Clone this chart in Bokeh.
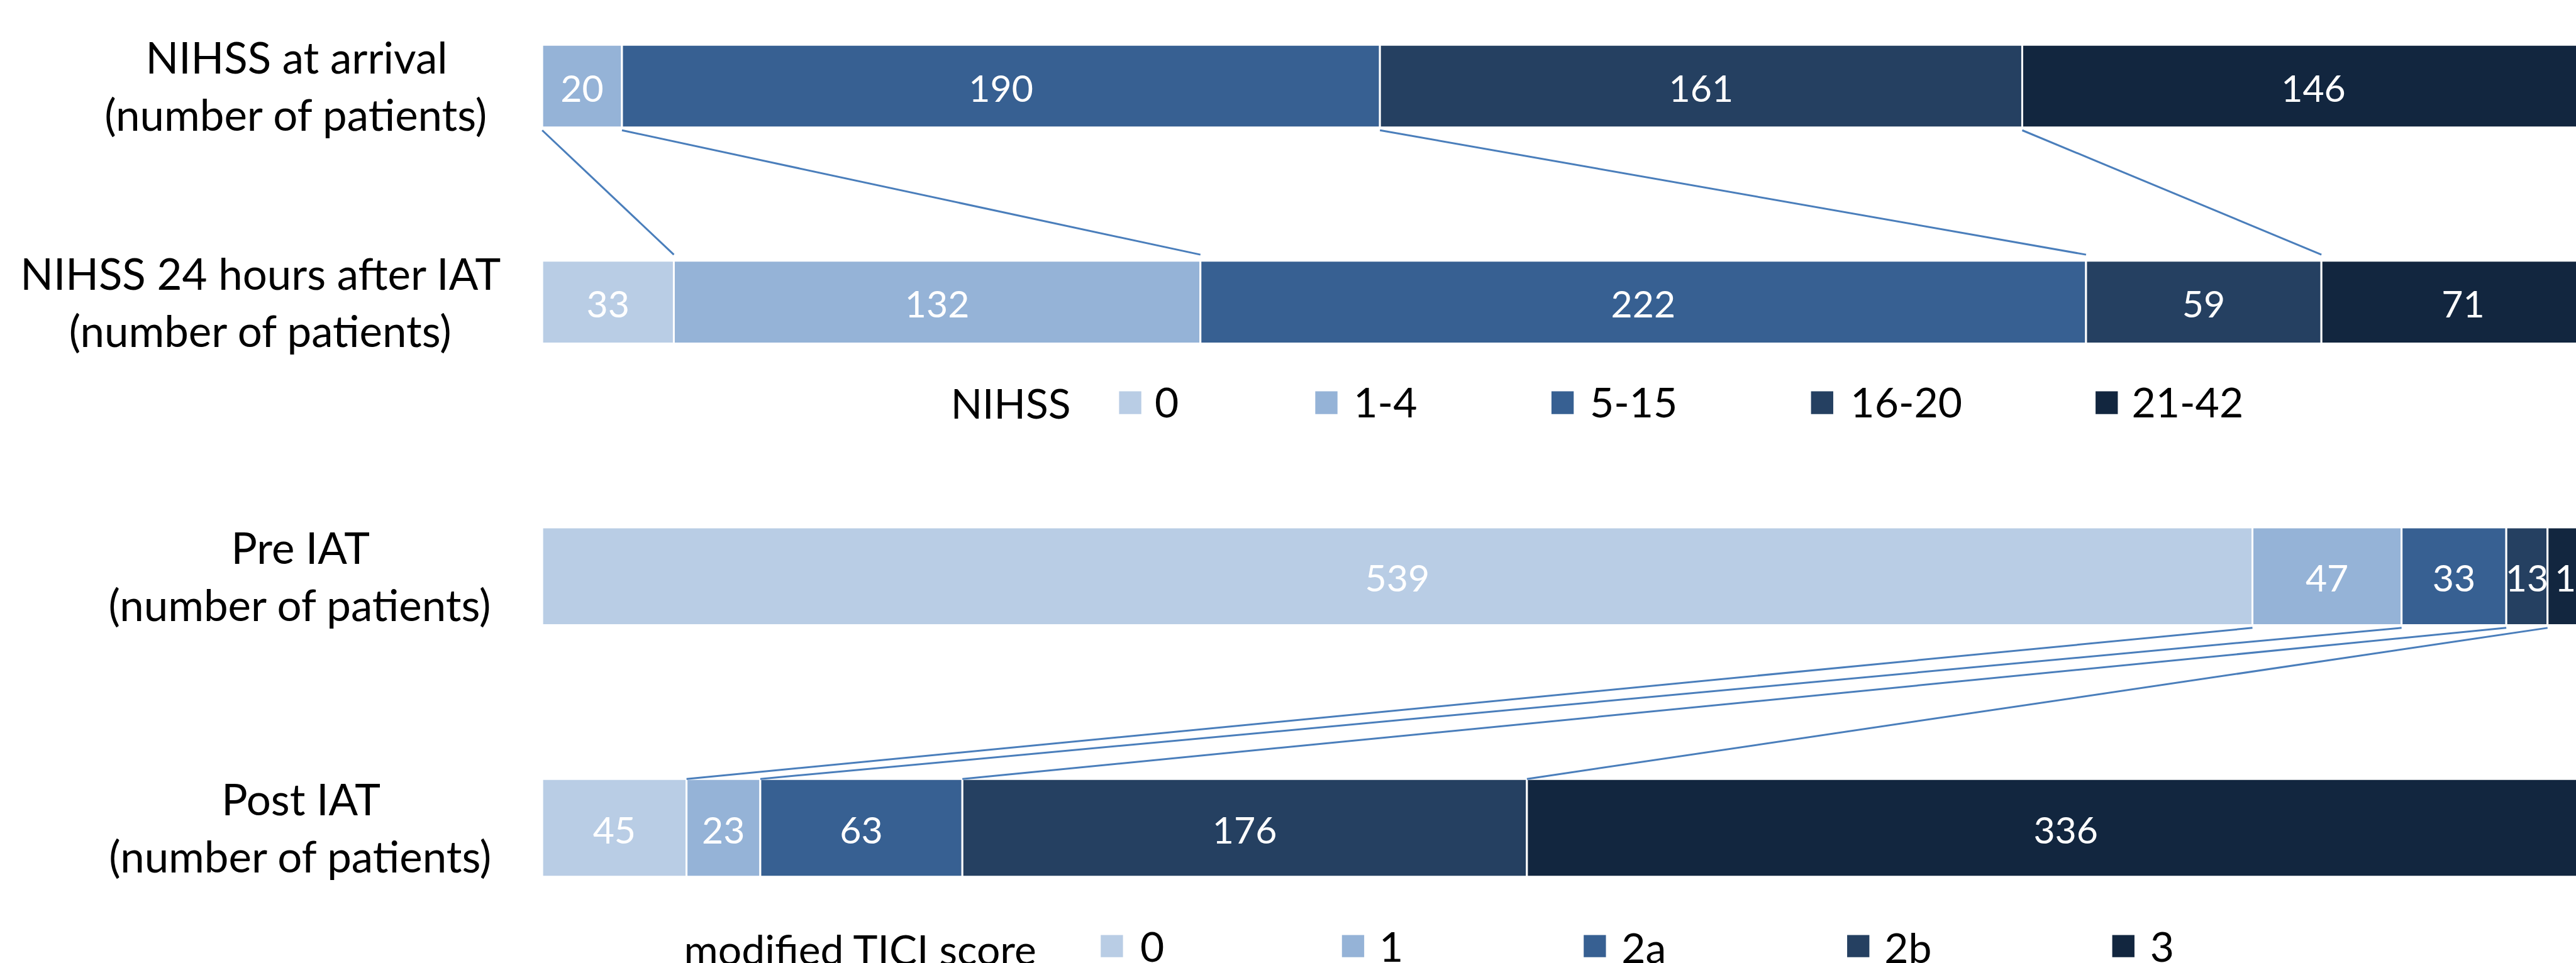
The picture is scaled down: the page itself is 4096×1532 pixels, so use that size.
from bokeh.plotting import figure
from bokeh.models import Range1d
from bokeh.embed import file_html
from bokeh.resources import INLINE
from bokeh.core.properties import value

# ---------------- data ----------------
nihss_cats = ["0", "1-4", "5-15", "16-20", "21-42"]
nihss_arrival = [0, 20, 190, 161, 146]
nihss_24h = [33, 132, 222, 59, 71]

tici_cats = ["0", "1", "2a", "2b", "3"]
tici_pre = [539, 47, 33, 13, 18]
tici_post = [45, 23, 63, 176, 336]

row_labels = [
    ["NIHSS at arrival", "(number of patients)"],
    ["NIHSS 24 hours after IAT", "(number of patients)"],
    ["Pre IAT", "(number of patients)"],
    ["Post IAT", "(number of patients)"],
]
colors = ["#B9CDE5", "#95B3D7", "#376092", "#254061", "#12263F"]

# ---------------- layout (reference pixel coordinates) ----------------
REF_W, REF_H = 4635, 1734
W, H = 4096, 1532
SCALE = W / REF_W
BAR_X0 = 975.0          # left edge of the bars
PX_PER_PCT = 37.11      # reference px per percent of a row


def px2pct(px):
    return (px - BAR_X0) / PX_PER_PCT


def tb(y, fs):
    # correct renderer's baseline offset (fs in output px, y in reference px)
    return y - 0.31 * fs / SCALE


FONT = value("Lato")
FS_DATA, FS_CAT, FS_LEG = 59, 69, 66

p = figure(width=W, height=H, output_backend="svg", toolbar_location=None,
           x_range=Range1d(px2pct(0), px2pct(REF_W)),
           y_range=Range1d(REF_H, 0),
           x_axis_location=None, y_axis_location=None,
           min_border=0, background_fill_color="white",
           border_fill_color="white")
p.grid.visible = False
p.outline_line_color = None

rows = [
    # values, top, bottom, label-center-x
    (nihss_arrival, 80, 229, 533),
    (nihss_24h, 469, 618, 469),
    (tici_pre, 949, 1125, 540),
    (tici_post, 1402, 1578, 541),
]

row_bounds = []
for (vals, top, bot, lcx), labels in zip(rows, row_labels):
    total = float(sum(vals))
    lefts, rights = [], []
    acc = 0.0
    for v in vals:
        lefts.append(acc / total * 100)
        acc += v
        rights.append(acc / total * 100)
    row_bounds.append(lefts)
    keep = [i for i, v in enumerate(vals) if v > 0]
    p.quad(left=[lefts[i] for i in keep], right=[rights[i] for i in keep],
           top=[top] * len(keep), bottom=[bot] * len(keep),
           fill_color=[colors[i] for i in keep], line_color="white", line_width=3)
    cy = (top + bot) / 2.0
    p.text(x=[(lefts[i] + rights[i]) / 2 for i in keep],
           y=[tb(cy + 25, FS_DATA)] * len(keep),
           text=[str(vals[i]) for i in keep], text_align="center",
           text_baseline="alphabetic", text_font=FONT,
           text_font_size=f"{FS_DATA}px", text_color="white")
    p.text(x=[px2pct(lcx)] * 2, y=[tb(cy - 28, FS_CAT), tb(cy + 75, FS_CAT)],
           text=labels, text_align="center", text_baseline="alphabetic",
           text_font=FONT, text_font_size=f"{FS_CAT}px", text_color="black")

# connectors between category starts
line_col = "#4A7EBB"
for (a, b, y0, y1) in [(0, 1, 234, 458), (2, 3, 1130, 1402)]:
    la, lb = row_bounds[a], row_bounds[b]
    p.segment(x0=la[1:], y0=[y0] * 4, x1=lb[1:], y1=[y1] * 4,
              line_color=line_col, line_width=3)

# legends
legends = [
    ("NIHSS", 1710, nihss_cats, [2013, 2366, 2791, 3258, 3770],
     [2077, 2435, 2860, 3329, 3835], 704, 745, 748, 748),
    ("modified TICI score", 1230, tici_cats, [1980, 2414, 2849, 3323, 3800],
     [2051, 2481, 2917, 3390, 3868], 1683, 1723, 1728, 1731),
]
for title, tx, cats, sqx, txx, sq_top, sq_bot, base, tbase in legends:
    p.quad(left=[px2pct(x) for x in sqx], right=[px2pct(x + 40) for x in sqx],
           top=[sq_top] * 5, bottom=[sq_bot] * 5, fill_color=colors,
           line_color=None)
    p.text(x=[px2pct(x) for x in txx], y=[tb(base, FS_LEG)] * 5, text=cats,
           text_align="left", text_baseline="alphabetic", text_font=FONT,
           text_font_size=f"{FS_LEG}px", text_color="black")
    p.text(x=[px2pct(tx)], y=[tb(tbase, FS_LEG)], text=[title], text_align="left",
           text_baseline="alphabetic", text_font=FONT,
           text_font_size=f"{FS_LEG}px", text_color="black")

open("out.html", "w").write(file_html(p, INLINE))
